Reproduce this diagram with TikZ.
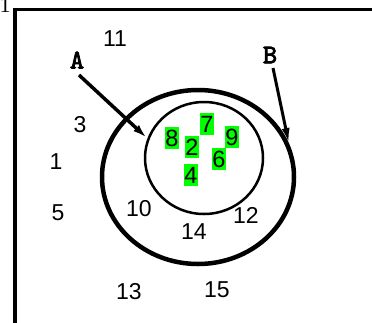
\documentclass[tikz,border=0pt]{standalone}
\usepackage{fontspec}
\setmainfont{Liberation Sans}
\newfontfamily\serifr{Liberation Serif}
\newfontfamily\monob{lmmono10-regular}[Extension=.otf, FakeBold=3]
\usetikzlibrary{arrows.meta}
\begin{document}
\begin{tikzpicture}[x=1pt,y=-1pt,
  num/.style={inner sep=0pt, font=\fontsize{23}{23}\selectfont},
  gnum/.style={fill=green, inner xsep=0.3pt, inner ysep=3pt, font=\fontsize{23.5}{23.5}\selectfont},
  setlbl/.style={inner sep=0pt, font=\monob\fontsize{27}{27}\selectfont},
  pointer/.style={line width=3.5pt, -{Latex[length=16pt,width=8pt]}}]
\useasboundingbox (0,0) rectangle (372,322);
\fill[white] (0,0) rectangle (372,322);
% corner glyph
\node[inner sep=0pt, anchor=base, font=\serifr\fontsize{22}{22}\selectfont] (corner) at (5,12.5) {1};
% frame
\draw[line width=3.5pt, line join=miter] (380,9.5) -- (15,9.5) -- (15,330);
% sets
\draw[line width=4.5pt] (198,177) ellipse [x radius=96, y radius=87];
\draw[line width=2.5pt] (204,158) ellipse [x radius=59, y radius=56];
% labels A B
\node[setlbl] (A) at (77,60) {A};
\node[setlbl] (B) at (270,55) {B};
\coordinate (Astart) at (79,75);
\coordinate (Aend) at (148,139);
\coordinate (Bstart) at (273,68);
\coordinate (Bend) at (289,144);
\draw[pointer] (Astart) -- (Aend);
\draw[pointer, line width=3pt] (Bstart) -- (Bend);
% numbers
\node[num] (n11) at (115,39) {11};
\node[num] (n3) at (80,125) {3};
\node[num] (n1) at (56,162) {1};
\node[num] (n5) at (58,213) {5};
\node[num] (n10) at (139,209) {10};
\node[num] (n12) at (246,215) {12};
\node[num] (n14) at (194,232) {14};
\node[num] (n13) at (129,292) {13};
\node[num] (n15) at (217,290) {15};
% inner numbers
\node[gnum] (n8) at (172,138) {8};
\node[gnum] (n7) at (207,124) {7};
\node[gnum] (n2) at (192,147) {2};
\node[gnum] (n9) at (232,137) {9};
\node[gnum] (n6) at (219,159) {6};
\node[gnum] (n4) at (191,175) {4};
\end{tikzpicture}
\end{document}
